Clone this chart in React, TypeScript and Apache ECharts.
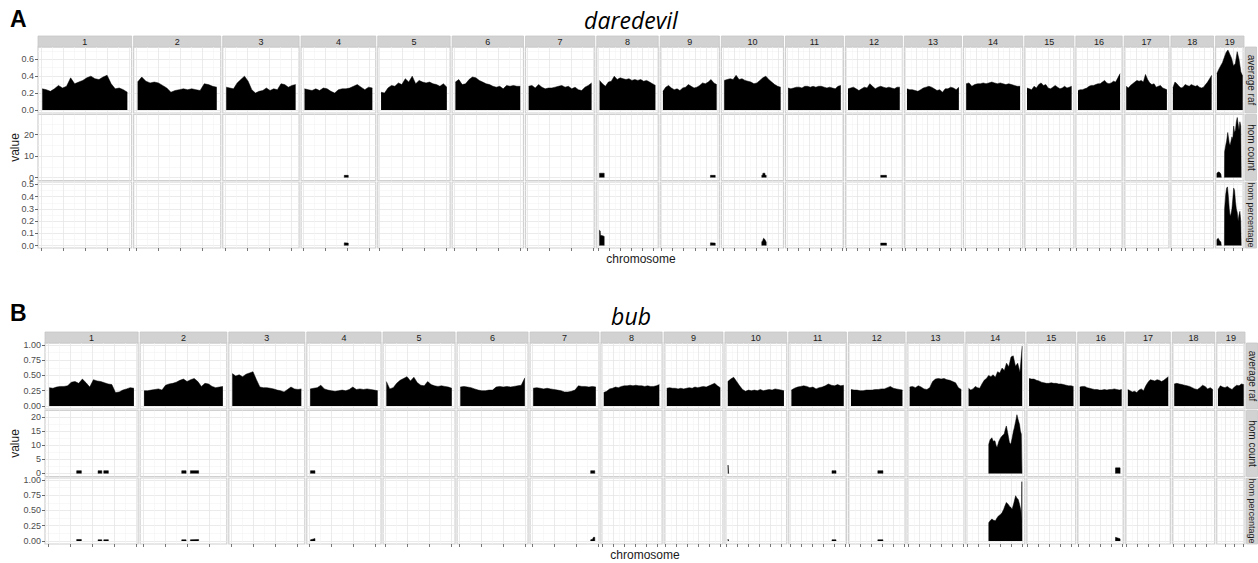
import React, { useEffect, useRef } from "react";
import * as echarts from "echarts";

// ---------------- data ----------------
const chromosomes = ["1", "2", "3", "4", "5", "6", "7", "8", "9", "10", "11", "12", "13", "14", "15", "16", "17", "18", "19"];
const chromLengthMb = [195.5, 182.1, 160.0, 156.5, 151.8, 149.7, 145.4, 129.4, 124.6, 130.7, 122.1, 120.1, 120.4, 124.9, 104.0, 98.2, 95.0, 90.7, 61.4];
const dataStartMb = 3;
const facetRows = ["average raf", "hom count", "hom percentage"];
const xAxisTitle = "chromosome";
const yAxisTitle = "value";

// Panel A – daredevil
const titleA = "daredevil";
const yTicksA = [[0, 0.2, 0.4, 0.6], [0, 10, 20], [0, 0.1, 0.2, 0.3, 0.4, 0.5]];
const yMinorA = [[0.1, 0.3, 0.5, 0.7], [5, 15, 25], [0.05, 0.15, 0.25, 0.35, 0.45]];
const yRangeA = [[-0.036, 0.745], [-1.4, 29.4], [-0.02, 0.52]];
const yDecimalsA = [1, 0, 1];

const rafA: number[][] = [
  [0.25, 0.24, 0.22, 0.25, 0.29, 0.26, 0.28, 0.38, 0.31, 0.33, 0.35, 0.38, 0.40, 0.37, 0.36, 0.39, 0.41, 0.31, 0.25, 0.26, 0.24, 0.21],
  [0.33, 0.39, 0.34, 0.32, 0.33, 0.32, 0.29, 0.26, 0.21, 0.23, 0.24, 0.25, 0.24, 0.25, 0.24, 0.23, 0.31, 0.30, 0.28, 0.27],
  [0.27, 0.26, 0.25, 0.32, 0.36, 0.40, 0.34, 0.24, 0.20, 0.22, 0.23, 0.26, 0.23, 0.25, 0.24, 0.31, 0.30, 0.27, 0.29, 0.30],
  [0.25, 0.24, 0.23, 0.25, 0.23, 0.26, 0.25, 0.22, 0.20, 0.24, 0.25, 0.25, 0.26, 0.28, 0.30, 0.27, 0.24, 0.27, 0.26],
  [0.21, 0.20, 0.26, 0.29, 0.28, 0.32, 0.30, 0.37, 0.33, 0.40, 0.31, 0.35, 0.33, 0.32, 0.33, 0.31, 0.30, 0.28, 0.31, 0.27],
  [0.33, 0.36, 0.30, 0.31, 0.36, 0.39, 0.38, 0.35, 0.33, 0.31, 0.30, 0.28, 0.27, 0.28, 0.25, 0.29, 0.28, 0.29, 0.28, 0.28],
  [0.28, 0.29, 0.26, 0.30, 0.27, 0.25, 0.26, 0.26, 0.27, 0.28, 0.29, 0.27, 0.28, 0.25, 0.27, 0.24, 0.23, 0.27, 0.29, 0.32],
  [0.35, 0.31, 0.28, 0.33, 0.34, 0.40, 0.36, 0.38, 0.37, 0.36, 0.37, 0.35, 0.36, 0.35, 0.36, 0.34, 0.35, 0.33, 0.31, 0.29],
  [0.22, 0.27, 0.29, 0.26, 0.24, 0.25, 0.23, 0.26, 0.27, 0.30, 0.28, 0.26, 0.27, 0.29, 0.32, 0.31, 0.33, 0.36, 0.32, 0.30],
  [0.35, 0.36, 0.37, 0.36, 0.41, 0.36, 0.37, 0.35, 0.34, 0.33, 0.31, 0.32, 0.35, 0.38, 0.40, 0.36, 0.33, 0.30, 0.28, 0.27],
  [0.26, 0.25, 0.26, 0.27, 0.27, 0.26, 0.28, 0.28, 0.27, 0.28, 0.27, 0.28, 0.28, 0.27, 0.26, 0.27, 0.26, 0.25, 0.28, 0.29],
  [0.25, 0.26, 0.27, 0.25, 0.23, 0.25, 0.27, 0.26, 0.31, 0.28, 0.25, 0.27, 0.28, 0.27, 0.26, 0.27, 0.26, 0.25, 0.27, 0.27],
  [0.25, 0.24, 0.24, 0.23, 0.22, 0.24, 0.26, 0.27, 0.28, 0.27, 0.25, 0.23, 0.24, 0.21, 0.25, 0.25, 0.27, 0.26, 0.24, 0.27],
  [0.31, 0.32, 0.28, 0.30, 0.31, 0.31, 0.32, 0.31, 0.32, 0.33, 0.32, 0.31, 0.32, 0.31, 0.30, 0.31, 0.30, 0.29, 0.28, 0.28],
  [0.26, 0.25, 0.24, 0.28, 0.26, 0.30, 0.32, 0.29, 0.30, 0.26, 0.25, 0.27, 0.29, 0.27, 0.25, 0.26, 0.28, 0.26, 0.27, 0.28],
  [0.23, 0.24, 0.24, 0.25, 0.26, 0.28, 0.29, 0.29, 0.30, 0.31, 0.31, 0.33, 0.35, 0.32, 0.31, 0.32, 0.34, 0.33, 0.38, 0.43],
  [0.28, 0.26, 0.29, 0.31, 0.33, 0.35, 0.34, 0.35, 0.33, 0.42, 0.36, 0.32, 0.30, 0.31, 0.27, 0.28, 0.29, 0.26, 0.25, 0.24],
  [0.26, 0.33, 0.31, 0.28, 0.26, 0.27, 0.30, 0.29, 0.28, 0.30, 0.29, 0.28, 0.29, 0.27, 0.26, 0.27, 0.30, 0.33, 0.37, 0.41],
  [0.43, 0.48, 0.52, 0.56, 0.62, 0.68, 0.71, 0.66, 0.61, 0.52, 0.55, 0.69, 0.60, 0.45, 0.40],
];

// hom data: chromosome -> list of segments, each a list of [position Mb, value]
const homCountA: Record<string, number[][][]> = {
  "4": [[[93, 0], [93, 1], [102, 1], [102, 0]]],
  "8": [[[3, 0], [3, 2], [13.5, 2], [13.5, 0]]],
  "9": [[[110.5, 0], [110.5, 1], [121.3, 1], [121.3, 0]]],
  "10": [[[88, 0], [88, 1], [90, 1], [90.5, 2], [95, 2], [95.5, 1], [98, 1], [98, 0]]],
  "12": [[[77, 0], [77, 1], [90, 1], [90, 0]]],
  "19": [
    [[3, 0], [3, 2], [6, 2.6], [9, 2.4], [12, 1.6], [13, 0]],
    [[20, 0], [20.5, 12], [23, 15], [25, 17], [27.5, 21], [29, 19], [31, 16], [33, 15], [35, 17], [37, 19], [39, 18], [41, 24], [43, 21], [45, 22], [47, 26], [49, 28], [51, 25], [53, 22], [55, 26], [57, 24], [58, 0]],
  ],
};
const homPctA: Record<string, number[][][]> = {
  "4": [[[93, 0], [93, 0.022], [102, 0.02], [102, 0]]],
  "8": [[[3, 0], [3, 0.125], [4.5, 0.12], [5, 0.085], [10, 0.08], [13.5, 0.075], [13.5, 0]]],
  "9": [[[110.5, 0], [110.5, 0.022], [121.3, 0.02], [121.3, 0]]],
  "10": [[[88, 0], [88, 0.03], [90, 0.04], [92, 0.06], [95, 0.05], [97, 0.035], [98, 0.03], [98, 0]]],
  "12": [[[77, 0], [77, 0.02], [90, 0.02], [90, 0]]],
  "19": [
    [[3, 0], [3, 0.05], [6, 0.06], [9, 0.04], [12, 0.03], [13, 0]],
    [[20, 0], [20.5, 0.3], [23, 0.42], [25, 0.47], [27, 0.48], [29, 0.4], [31, 0.3], [33, 0.24], [35, 0.26], [37, 0.3], [39, 0.38], [41, 0.47], [43, 0.45], [45, 0.36], [47, 0.3], [49, 0.27], [51, 0.2], [53, 0.25], [55, 0.28], [57, 0.2], [58, 0]],
  ],
};

// Panel B – bub
const titleB = "bub";
const yTicksB = [[0, 0.25, 0.5, 0.75, 1], [0, 5, 10, 15, 20], [0, 0.25, 0.5, 0.75, 1]];
const yMinorB = [[0.125, 0.375, 0.625, 0.875], [2.5, 7.5, 12.5, 17.5], [0.125, 0.375, 0.625, 0.875]];
const yRangeB = [[-0.049, 1.03], [-1.07, 22.4], [-0.049, 1.03]];
const yDecimalsB = [2, 0, 2];

const rafB: number[][] = [
  [0.30, 0.29, 0.31, 0.32, 0.32, 0.33, 0.39, 0.40, 0.37, 0.44, 0.38, 0.31, 0.43, 0.41, 0.40, 0.38, 0.36, 0.35, 0.22, 0.23, 0.26, 0.28, 0.30, 0.29],
  [0.25, 0.25, 0.26, 0.27, 0.28, 0.26, 0.34, 0.36, 0.37, 0.39, 0.42, 0.44, 0.40, 0.43, 0.45, 0.40, 0.32, 0.37, 0.36, 0.32, 0.30, 0.31, 0.32],
  [0.53, 0.49, 0.51, 0.48, 0.52, 0.54, 0.56, 0.43, 0.31, 0.30, 0.30, 0.29, 0.28, 0.26, 0.25, 0.23, 0.27, 0.31, 0.28, 0.27, 0.28],
  [0.28, 0.29, 0.30, 0.34, 0.28, 0.26, 0.25, 0.24, 0.25, 0.26, 0.25, 0.27, 0.31, 0.27, 0.28, 0.27, 0.28, 0.27, 0.26, 0.25],
  [0.40, 0.28, 0.30, 0.37, 0.42, 0.45, 0.48, 0.41, 0.47, 0.38, 0.34, 0.33, 0.40, 0.35, 0.33, 0.32, 0.33, 0.32, 0.31, 0.29],
  [0.31, 0.32, 0.31, 0.30, 0.28, 0.26, 0.25, 0.25, 0.26, 0.26, 0.31, 0.32, 0.31, 0.32, 0.31, 0.32, 0.33, 0.34, 0.46],
  [0.29, 0.30, 0.29, 0.28, 0.29, 0.28, 0.27, 0.26, 0.25, 0.23, 0.23, 0.24, 0.26, 0.33, 0.32, 0.32, 0.31, 0.32, 0.31],
  [0.22, 0.24, 0.28, 0.29, 0.31, 0.30, 0.32, 0.33, 0.33, 0.34, 0.33, 0.34, 0.33, 0.33, 0.32, 0.33, 0.32, 0.32, 0.33, 0.35],
  [0.29, 0.30, 0.29, 0.29, 0.28, 0.29, 0.28, 0.29, 0.30, 0.29, 0.31, 0.30, 0.31, 0.32, 0.31, 0.33, 0.35, 0.37, 0.33, 0.30],
  [0.40, 0.44, 0.47, 0.40, 0.33, 0.27, 0.24, 0.26, 0.25, 0.26, 0.25, 0.27, 0.25, 0.26, 0.27, 0.26, 0.28, 0.27, 0.26, 0.25],
  [0.26, 0.29, 0.31, 0.32, 0.33, 0.32, 0.30, 0.31, 0.28, 0.30, 0.31, 0.33, 0.36, 0.34, 0.33, 0.35, 0.33, 0.34],
  [0.27, 0.26, 0.26, 0.25, 0.25, 0.26, 0.26, 0.26, 0.27, 0.27, 0.28, 0.28, 0.30, 0.32, 0.29, 0.28, 0.27, 0.26],
  [0.31, 0.32, 0.30, 0.33, 0.31, 0.28, 0.27, 0.30, 0.40, 0.44, 0.45, 0.44, 0.45, 0.43, 0.42, 0.40, 0.38, 0.30, 0.27],
  [0.29, 0.26, 0.28, 0.32, 0.30, 0.29, 0.36, 0.42, 0.45, 0.50, 0.48, 0.51, 0.47, 0.56, 0.54, 0.62, 0.58, 0.70, 0.64, 0.80, 0.82, 0.65, 0.70, 0.55, 0.98],
  [0.45, 0.44, 0.44, 0.42, 0.41, 0.39, 0.38, 0.37, 0.37, 0.38, 0.37, 0.37, 0.36, 0.36, 0.35, 0.34, 0.33, 0.33, 0.32],
  [0.31, 0.32, 0.32, 0.30, 0.29, 0.28, 0.27, 0.27, 0.26, 0.26, 0.27, 0.26, 0.27, 0.27, 0.28, 0.27, 0.26, 0.27],
  [0.27, 0.25, 0.23, 0.24, 0.22, 0.26, 0.28, 0.25, 0.33, 0.39, 0.43, 0.42, 0.41, 0.43, 0.42, 0.40, 0.42, 0.45, 0.48],
  [0.36, 0.37, 0.36, 0.35, 0.34, 0.33, 0.32, 0.30, 0.28, 0.27, 0.30, 0.34, 0.32, 0.28, 0.30, 0.27],
  [0.27, 0.33, 0.31, 0.30, 0.32, 0.29, 0.27, 0.31, 0.34, 0.33, 0.36, 0.35],
];

const homCountB: Record<string, number[][][]> = {
  "1": [
    [[65.4, 0], [65.4, 1], [76, 1], [76, 0]],
    [[114, 0], [114, 1], [122.5, 1], [122.5, 0]],
    [[127, 0], [127, 1], [137.4, 1], [137.4, 0]],
  ],
  "2": [
    [[88.6, 0], [88.6, 1], [98.5, 1], [98.5, 0]],
    [[108.3, 0], [108.3, 1], [127, 1], [127, 0]],
  ],
  "4": [[[3.8, 0], [3.8, 1], [13.9, 1], [13.9, 0]]],
  "7": [[[133.7, 0], [133.7, 1], [143, 1], [143, 0]]],
  "10": [[[3.6, 0], [3.6, 3], [5, 3], [5, 0]]],
  "11": [[[95.3, 0], [95.3, 1], [104.5, 1], [104.5, 0]]],
  "12": [[[64.1, 0], [64.1, 1], [75.7, 1], [75.7, 0]]],
  "14": [[[49, 0], [49, 10.4], [52, 12], [56, 12.7], [59, 11.5], [63, 11.6], [66, 9.8], [68, 9.3], [72, 11.5], [76, 12.7], [80, 13.5], [84, 14], [87, 16], [89, 16.9], [92, 14.5], [96, 11], [99, 10.4], [102, 12.5], [105, 15], [107, 16.2], [110, 18.5], [113, 20.9], [116, 19], [119, 17.4], [121, 15], [123, 14], [124.5, 0]]],
  "16": [[[84.1, 0], [84.1, 2], [94.6, 2], [94.6, 0]]],
};
const homPctB: Record<string, number[][][]> = {
  "1": [
    [[65.4, 0], [65.4, 0.025], [76, 0.025], [76, 0]],
    [[114, 0], [114, 0.02], [122.5, 0.02], [122.5, 0]],
    [[127, 0], [127, 0.02], [137.4, 0.022], [137.4, 0]],
  ],
  "2": [
    [[88.6, 0], [88.6, 0.02], [98.5, 0.02], [98.5, 0]],
    [[108.3, 0], [108.3, 0.02], [127, 0.025], [127, 0]],
  ],
  "4": [[[3.8, 0], [3.8, 0.02], [9, 0.03], [13.9, 0.04], [13.9, 0]]],
  "7": [[[133.7, 0], [133.7, 0.02], [138, 0.03], [140, 0.06], [143, 0.06], [143, 0]]],
  "10": [[[3.6, 0], [3.6, 0.03], [5, 0.03], [5, 0]]],
  "11": [[[95.3, 0], [95.3, 0.02], [104.5, 0.02], [104.5, 0]]],
  "12": [[[64.1, 0], [64.1, 0.02], [75.7, 0.02], [75.7, 0]]],
  "14": [[[49, 0], [49, 0.3], [52, 0.33], [56, 0.36], [60, 0.34], [64, 0.33], [68, 0.38], [71, 0.41], [75, 0.43], [79, 0.46], [83, 0.52], [86, 0.58], [89, 0.63], [93, 0.6], [96, 0.57], [99, 0.55], [102, 0.52], [106, 0.62], [110, 0.74], [113, 0.7], [116, 0.68], [119, 0.6], [122, 0.5], [123.5, 0.3], [124, 0.97], [124.5, 0.97], [124.6, 0]]],
  "16": [[[84.1, 0], [84.1, 0.06], [89, 0.05], [94.6, 0.035], [94.6, 0]]],
};

// ---------------- layout / styling ----------------
const FONT = "'Liberation Sans', Arial, Helvetica, sans-serif";

type Layout = {
  left: number; right: number; stripTop: number; stripH: number;
  rowTops: number[]; rowH: number; tagY: number; titleY: number; xLabelY: number;
};
type Panel = {
  tag: string; title: string; raf: number[][];
  homCount: Record<string, number[][][]>; homPct: Record<string, number[][][]>;
  yTicks: number[][]; yMinor: number[][]; yRange: number[][]; yDecimals: number[];
  layout: Layout;
};

const panels: Panel[] = [
  {
    tag: "A", title: titleA, raf: rafA, homCount: homCountA, homPct: homPctA,
    yTicks: yTicksA, yMinor: yMinorA, yRange: yRangeA, yDecimals: yDecimalsA,
    layout: { left: 38, right: 1244, stripTop: 36, stripH: 11, rowTops: [47, 114.5, 182], rowH: 66, tagY: 19, titleY: 20, xLabelY: 259 },
  },
  {
    tag: "B", title: titleB, raf: rafB, homCount: homCountB, homPct: homPctB,
    yTicks: yTicksB, yMinor: yMinorB, yRange: yRangeB, yDecimals: yDecimalsB,
    layout: { left: 45, right: 1245, stripTop: 332, stripH: 11, rowTops: [343, 410.5, 478], rowH: 66, tagY: 313, titleY: 316, xLabelY: 555 },
  },
];

function buildOption(): any {
  const grid: any[] = [];
  const xAxis: any[] = [];
  const yAxis: any[] = [];
  const series: any[] = [];
  const graphic: any[] = [];
  const gap = 2;
  const spans = chromLengthMb.map((l) => l - dataStartMb);
  const total = spans.reduce((a, b) => a + b, 0);

  panels.forEach((p) => {
    const L = p.layout;
    const avail = L.right - L.left - gap * (chromosomes.length - 1);
    let x = L.left;
    chromosomes.forEach((chr, c) => {
      const w = (avail * spans[c]) / total;
      const len = chromLengthMb[c];
      const span = len - dataStartMb;
      const xmin = dataStartMb - 0.05 * span;
      const xmax = len + 0.05 * span;
      const step = len >= 140 ? 50 : len >= 90 ? 25 : 20;
      const xMaj: number[] = [];
      const xMin: number[] = [];
      for (let t = 0; t <= xmax; t += step) xMaj.push(t);
      for (let t = step / 2; t <= xmax; t += step) xMin.push(t);

      // strip header
      graphic.push({
        type: "rect", shape: { x, y: L.stripTop, width: w, height: L.stripH },
        style: { fill: "#d2d2d2", stroke: "#c6c6c6", lineWidth: 0.8 }, silent: true,
      });
      graphic.push({
        type: "text", x: x + w / 2, y: L.stripTop + L.stripH / 2 + 0.5,
        style: { text: chr, fontSize: 9, fontFamily: FONT, fill: "#1a1a1a", align: "center", verticalAlign: "middle" },
        silent: true,
      });

      for (let r = 0; r < 3; r++) {
        const g = grid.length;
        grid.push({
          left: x, top: L.rowTops[r], width: w, height: L.rowH,
          show: true, backgroundColor: "#ffffff", borderColor: "#d0d0d0", borderWidth: 1.2,
          containLabel: false,
        });
        xAxis.push({
          gridIndex: g, type: "value", min: xmin, max: xmax,
          axisLine: { show: false, onZero: false },
          axisLabel: { show: false },
          axisTick: { show: r === 2, customValues: xMaj, length: 3, lineStyle: { color: "#555555", width: 0.8 } },
          splitLine: { show: true, lineStyle: { color: "#e6e6e6", width: 0.8 } },
        });
        xAxis.push({
          gridIndex: g, type: "value", min: xmin, max: xmax,
          axisLine: { show: false, onZero: false },
          axisLabel: { show: false },
          axisTick: { show: false, customValues: xMin },
          splitLine: { show: true, lineStyle: { color: "#f3f3f3", width: 0.6 } },
        });
        const dec = p.yDecimals[r];
        yAxis.push({
          gridIndex: g, type: "value", min: p.yRange[r][0], max: p.yRange[r][1], position: "left",
          axisLine: { show: false, onZero: false },
          axisLabel: {
            show: c === 0, customValues: p.yTicks[r], margin: 4, fontSize: 9, color: "#4d4d4d", fontFamily: FONT,
            formatter: (v: number) => Number(v).toFixed(dec),
          },
          axisTick: { show: c === 0, customValues: p.yTicks[r], length: 3, lineStyle: { color: "#444444", width: 0.8 } },
          splitLine: { show: true, lineStyle: { color: "#e6e6e6", width: 0.8 } },
        });
        yAxis.push({
          gridIndex: g, type: "value", min: p.yRange[r][0], max: p.yRange[r][1], position: "left",
          axisLine: { show: false, onZero: false },
          axisLabel: { show: false },
          axisTick: { show: false, customValues: p.yMinor[r] },
          splitLine: { show: true, lineStyle: { color: "#f3f3f3", width: 0.6 } },
        });

        const base = {
          type: "line", xAxisIndex: 2 * g, yAxisIndex: 2 * g, showSymbol: false, symbol: "none",
          silent: true, animation: false, clip: true,
          lineStyle: { color: "#000000", width: 0.5 },
          areaStyle: { color: "#000000", opacity: 1, origin: "auto" },
          itemStyle: { color: "#000000" },
        };
        if (r === 0) {
          const vals = p.raf[c];
          const n = vals.length;
          const data = vals.map((v, i) => [dataStartMb + (i * (len - dataStartMb)) / (n - 1), v]);
          series.push({ ...base, name: `${p.tag}-${chr}-raf`, data });
        } else {
          const segs = (r === 1 ? p.homCount : p.homPct)[chr];
          if (segs) {
            segs.forEach((seg, k) => {
              series.push({ ...base, name: `${p.tag}-${chr}-${r}-${k}`, data: seg });
            });
          }
        }
      }
      x += w + gap;
    });

    // right strips
    for (let r = 0; r < 3; r++) {
      const sx = L.right + 1.5;
      const sy = L.rowTops[r];
      graphic.push({
        type: "rect", shape: { x: sx, y: sy, width: 11, height: L.rowH },
        style: { fill: "#d2d2d2", stroke: "#c6c6c6", lineWidth: 0.8 }, silent: true,
      });
      graphic.push({
        type: "text", x: sx + 5.5, y: sy + L.rowH / 2, rotation: -Math.PI / 2,
        style: {
          text: facetRows[r], fontSize: r === 2 ? 9 : 10, fontFamily: FONT, fill: "#1a1a1a",
          align: "center", verticalAlign: "middle",
        },
        silent: true,
      });
    }

    // tag, title, axis titles
    graphic.push({
      type: "text", x: 10, y: L.tagY,
      style: { text: p.tag, fontSize: 23, fontWeight: "bold", fontFamily: FONT, fill: "#000000", align: "left", verticalAlign: "middle" },
    });
    graphic.push({
      type: "text", x: 631, y: L.titleY,
      style: { text: p.title, fontSize: 23, fontStyle: "italic", fontFamily: "'Open Sans', 'Noto Sans', sans-serif", fill: "#000000", align: "center", verticalAlign: "middle" },
    });
    graphic.push({
      type: "text", x: (L.left + L.right) / 2, y: L.xLabelY,
      style: { text: xAxisTitle, fontSize: 12, fontFamily: FONT, fill: "#1a1a1a", align: "center", verticalAlign: "middle" },
    });
    graphic.push({
      type: "text", x: 15, y: (L.rowTops[0] + L.rowTops[2] + L.rowH) / 2, rotation: Math.PI / 2,
      style: { text: yAxisTitle, fontSize: 12, fontFamily: FONT, fill: "#1a1a1a", align: "center", verticalAlign: "middle" },
    });
  });

  return {
    animation: false,
    backgroundColor: "#ffffff",
    grid, xAxis, yAxis, series, graphic,
  };
}

export default function App() {
  const ref = useRef<HTMLDivElement | null>(null);
  useEffect(() => {
    if (!ref.current) return;
    const chart = echarts.init(ref.current, undefined, { renderer: "svg" });
    chart.setOption(buildOption());
    return () => chart.dispose();
  }, []);
  return (
    <div
      ref={ref}
      style={{ position: "fixed", left: 0, top: 0, width: 1258, height: 563, background: "#ffffff" }}
    />
  );
}
